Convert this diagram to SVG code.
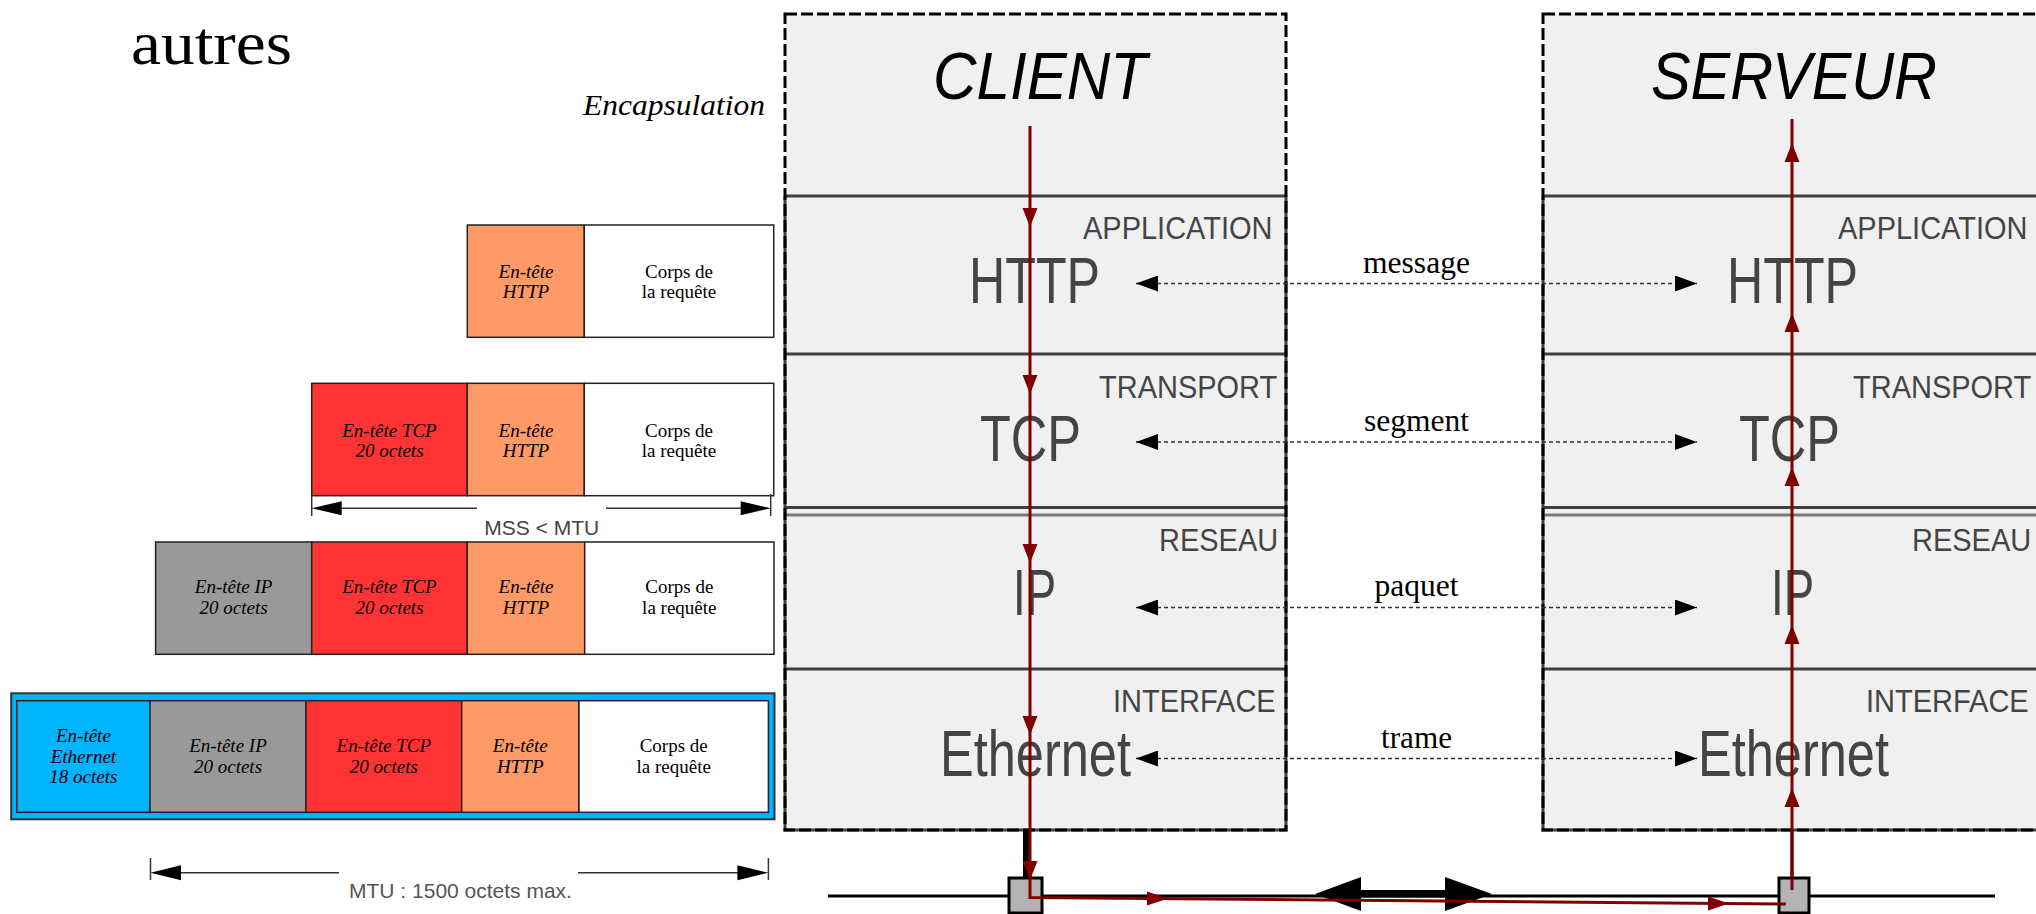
<svg xmlns="http://www.w3.org/2000/svg" xmlns:xlink="http://www.w3.org/1999/xlink" width="2036" height="914" viewBox="0 0 2036 914">
<style>
.stack{fill:#f0f0f0}
.lyr{stroke:#404040;stroke-width:3;fill:none}
.lyr2{stroke:#7a7a7a;stroke-width:3}
.brd{fill:none;stroke:#000;stroke-width:3;stroke-dasharray:12 4}
.title{font-family:"Liberation Sans",Arial,sans-serif;font-style:italic;font-size:67px;fill:#000}
.lname{font-family:"Liberation Sans",Arial,sans-serif;font-size:29px;fill:#444}
.proto{font-family:"Liberation Sans",Arial,sans-serif;font-size:64px;fill:#444}
.lbl{font-family:"Liberation Serif","Times New Roman",serif;font-size:31px;fill:#000;text-anchor:middle}
.cell{stroke:#222;stroke-width:1.5}
.pt{font-family:"Liberation Serif","Times New Roman",serif;font-size:19px;font-style:italic;fill:#000;text-anchor:middle}
.pn{font-family:"Liberation Serif","Times New Roman",serif;font-size:19px;fill:#000;text-anchor:middle}
.dim{stroke:#333;stroke-width:1.5;fill:none}
.dimt{font-family:"Liberation Sans",Arial,sans-serif;font-size:21px;text-anchor:middle}
.dot{stroke:#333;stroke-width:1.5;stroke-dasharray:4 3;fill:none}
.red{stroke:#800000;stroke-width:3;fill:none}
.redf{fill:#800000}
</style>
<defs>
<marker id="ah" viewBox="0 0 22 16" refX="22" refY="8" markerWidth="22" markerHeight="16" markerUnits="userSpaceOnUse" orient="auto-start-reverse"><path d="M0,0 L22,8 L0,16 z" fill="#000"/></marker>
<path id="rdown" d="M-7.5,-19 L7.5,-19 L0,0 z"/>
<path id="rup" d="M-7.5,19 L7.5,19 L0,0 z"/>
<path id="rright" d="M-21,-7 L-21,7 L0,0 z"/>
</defs>

<text x="131" y="64" font-family="Liberation Serif,'Times New Roman',serif" font-size="62" textLength="161" lengthAdjust="spacingAndGlyphs">autres</text>
<text x="583" y="115" font-family="Liberation Serif,'Times New Roman',serif" font-style="italic" font-size="29" textLength="182" lengthAdjust="spacingAndGlyphs">Encapsulation</text>

<g id="client">
<rect class="stack" x="785" y="14" width="501" height="816"/>
<line class="lyr" x1="785" y1="196" x2="1286" y2="196"/>
<line class="lyr" x1="785" y1="354" x2="1286" y2="354"/>
<line class="lyr" x1="785" y1="507.5" x2="1286" y2="507.5"/>
<line class="lyr2" x1="785" y1="515" x2="1286" y2="515"/>
<line class="lyr" x1="785" y1="669" x2="1286" y2="669"/>
<path class="lyr" d="M785,196 V830 H1286 V196"/>
<rect class="brd" x="785" y="14" width="501" height="816"/>
<text class="title" x="933" y="99" textLength="214" lengthAdjust="spacingAndGlyphs">CLIENT</text>
<text class="lname" transform="translate(1083,239) scale(1,1.1)">APPLICATION</text>
<text class="proto" x="969" y="303" textLength="131" lengthAdjust="spacingAndGlyphs">HTTP</text>
<text class="lname" transform="translate(1099,398) scale(1,1.1)">TRANSPORT</text>
<text class="proto" x="980" y="461" textLength="101" lengthAdjust="spacingAndGlyphs">TCP</text>
<text class="lname" transform="translate(1159,551) scale(1,1.1)">RESEAU</text>
<text class="proto" x="1013" y="615" textLength="43" lengthAdjust="spacingAndGlyphs">IP</text>
<text class="lname" transform="translate(1113,712) scale(1,1.1)">INTERFACE</text>
<text class="proto" x="940" y="776" textLength="191" lengthAdjust="spacingAndGlyphs">Ethernet</text>
</g>

<g id="serveur">
<rect class="stack" x="1543" y="14" width="501" height="816"/>
<line class="lyr" x1="1543" y1="196" x2="2044" y2="196"/>
<line class="lyr" x1="1543" y1="354" x2="2044" y2="354"/>
<line class="lyr" x1="1543" y1="507.5" x2="2044" y2="507.5"/>
<line class="lyr2" x1="1543" y1="515" x2="2044" y2="515"/>
<line class="lyr" x1="1543" y1="669" x2="2044" y2="669"/>
<path class="lyr" d="M1543,196 V830 H2044 V196"/>
<rect class="brd" x="1543" y="14" width="501" height="816"/>
<text class="title" x="1651" y="99" textLength="286" lengthAdjust="spacingAndGlyphs">SERVEUR</text>
<text class="lname" transform="translate(1838,239) scale(1,1.1)">APPLICATION</text>
<text class="proto" x="1727" y="303" textLength="131" lengthAdjust="spacingAndGlyphs">HTTP</text>
<text class="lname" transform="translate(1853,398) scale(1,1.1)">TRANSPORT</text>
<text class="proto" x="1739" y="461" textLength="101" lengthAdjust="spacingAndGlyphs">TCP</text>
<text class="lname" transform="translate(1912,551) scale(1,1.1)">RESEAU</text>
<text class="proto" x="1771" y="615" textLength="43" lengthAdjust="spacingAndGlyphs">IP</text>
<text class="lname" transform="translate(1866,712) scale(1,1.1)">INTERFACE</text>
<text class="proto" x="1698" y="776" textLength="191" lengthAdjust="spacingAndGlyphs">Ethernet</text>
</g>

<g id="packet-http">
<rect class="cell" x="467.3" y="225" width="117" height="112.3" fill="#ff9966"/>
<rect class="cell" x="584.3" y="225" width="189.4" height="112.3" fill="#fff"/>
<text class="pt" x="526" y="277.7">En-tête</text><text class="pt" x="526" y="298.3">HTTP</text>
<text class="pn" x="679" y="277.7">Corps de</text><text class="pn" x="679" y="298.3">la requête</text>
</g>

<g id="packet-tcp">
<rect class="cell" x="311.7" y="383.3" width="155.6" height="112.4" fill="#ff3333"/>
<rect class="cell" x="467.3" y="383.3" width="117" height="112.4" fill="#ff9966"/>
<rect class="cell" x="584.3" y="383.3" width="189.4" height="112.4" fill="#fff"/>
<text class="pt" x="389.5" y="436.7">En-tête TCP</text><text class="pt" x="389.5" y="456.7">20 octets</text>
<text class="pt" x="526" y="436.7">En-tête</text><text class="pt" x="526" y="456.7">HTTP</text>
<text class="pn" x="679" y="436.7">Corps de</text><text class="pn" x="679" y="456.7">la requête</text>
</g>

<g id="mss">
<line class="dim" x1="311.7" y1="494" x2="311.7" y2="516"/>
<line class="dim" x1="770.7" y1="494" x2="770.7" y2="516"/>
<line class="dim" x1="335" y1="508.3" x2="477" y2="508.3"/>
<line class="dim" x1="606" y1="508.3" x2="748" y2="508.3"/>
<path d="M311.7,508.3 L341.7,501.3 L341.7,515.3 z" fill="#000"/>
<path d="M770.7,508.3 L740.7,501.3 L740.7,515.3 z" fill="#000"/>
<text class="dimt" x="541.7" y="535" fill="#444">MSS &lt; MTU</text>
</g>

<g id="packet-ip">
<rect class="cell" x="155.6" y="542" width="156.1" height="112.3" fill="#999"/>
<rect class="cell" x="311.7" y="542" width="155.6" height="112.3" fill="#ff3333"/>
<rect class="cell" x="467.3" y="542" width="117.4" height="112.3" fill="#ff9966"/>
<rect class="cell" x="584.7" y="542" width="189.3" height="112.3" fill="#fff"/>
<text class="pt" x="233.6" y="593.3">En-tête IP</text><text class="pt" x="233.6" y="614">20 octets</text>
<text class="pt" x="389.5" y="593.3">En-tête TCP</text><text class="pt" x="389.5" y="614">20 octets</text>
<text class="pt" x="526" y="593.3">En-tête</text><text class="pt" x="526" y="614">HTTP</text>
<text class="pn" x="679.3" y="593.3">Corps de</text><text class="pn" x="679.3" y="614">la requête</text>
</g>

<g id="packet-ethernet">
<rect x="11.2" y="693.3" width="763.3" height="126" fill="#00b4ff" stroke="#333" stroke-width="2"/>
<rect class="cell" x="16.8" y="700.7" width="133.2" height="111.6" fill="#00b4ff"/>
<rect class="cell" x="150" y="700.7" width="156" height="111.6" fill="#999"/>
<rect class="cell" x="306" y="700.7" width="155.7" height="111.6" fill="#ff3333"/>
<rect class="cell" x="461.7" y="700.7" width="117.3" height="111.6" fill="#ff9966"/>
<rect class="cell" x="579" y="700.7" width="189.4" height="111.6" fill="#fff"/>
<text class="pt" x="83.4" y="741.7">En-tête</text><text class="pt" x="83.4" y="762.7">Ethernet</text><text class="pt" x="83.4" y="783.3">18 octets</text>
<text class="pt" x="228" y="751.7">En-tête IP</text><text class="pt" x="228" y="772.7">20 octets</text>
<text class="pt" x="383.8" y="751.7">En-tête TCP</text><text class="pt" x="383.8" y="772.7">20 octets</text>
<text class="pt" x="520.3" y="751.7">En-tête</text><text class="pt" x="520.3" y="772.7">HTTP</text>
<text class="pn" x="673.7" y="751.7">Corps de</text><text class="pn" x="673.7" y="772.7">la requête</text>
</g>

<g id="mtu">
<line class="dim" x1="150.5" y1="858" x2="150.5" y2="880"/>
<line class="dim" x1="768.4" y1="858" x2="768.4" y2="880"/>
<line class="dim" x1="175" y1="872.7" x2="339" y2="872.7"/>
<line class="dim" x1="578" y1="872.7" x2="745" y2="872.7"/>
<path d="M150.5,872.7 L181,865.2 L181,880.2 z" fill="#000"/>
<path d="M768.4,872.7 L737.4,865.2 L737.4,880.2 z" fill="#000"/>
<text class="dimt" x="460.5" y="898" fill="#555">MTU : 1500 octets max.</text>
</g>

<g id="reseau">
<line x1="828" y1="896" x2="1995" y2="896" stroke="#000" stroke-width="3"/>
<line x1="1026.5" y1="830" x2="1026.5" y2="878" stroke="#000" stroke-width="7"/>
<line x1="1792" y1="830" x2="1792" y2="878" stroke="#000" stroke-width="3"/>
<rect x="1009" y="878" width="33" height="35" fill="#b3b3b3" stroke="#000" stroke-width="3"/>
<rect x="1779" y="878" width="30" height="35" fill="#b3b3b3" stroke="#000" stroke-width="3"/>
<path d="M1361,890 H1445 V897.5 H1361 z" fill="#000"/>
<path d="M1315,894 L1361,877 L1361,911 z" fill="#000"/>
<path d="M1492,894 L1445,877 L1445,911 z" fill="#000"/>
</g>

<g id="connectors">
<line class="dot" x1="1136" y1="283.5" x2="1697" y2="283.5" marker-start="url(#ah)" marker-end="url(#ah)"/>
<line class="dot" x1="1136" y1="442" x2="1697" y2="442" marker-start="url(#ah)" marker-end="url(#ah)"/>
<line class="dot" x1="1136" y1="607.5" x2="1697" y2="607.5" marker-start="url(#ah)" marker-end="url(#ah)"/>
<line class="dot" x1="1136" y1="758.5" x2="1697" y2="758.5" marker-start="url(#ah)" marker-end="url(#ah)"/>
<text class="lbl" x="1416.5" y="272.7" textLength="107" lengthAdjust="spacingAndGlyphs">message</text>
<text class="lbl" x="1416.5" y="430.8" textLength="105" lengthAdjust="spacingAndGlyphs">segment</text>
<text class="lbl" x="1416.5" y="596" textLength="84" lengthAdjust="spacingAndGlyphs">paquet</text>
<text class="lbl" x="1416.5" y="748" textLength="71" lengthAdjust="spacingAndGlyphs">trame</text>

<path class="red" d="M1030,126 V897.5 L1786,904"/>
<line class="red" x1="1792" y1="890" x2="1792" y2="119"/>
<g class="redf">
<use xlink:href="#rdown" x="1030" y="227"/>
<use xlink:href="#rdown" x="1030" y="394"/>
<use xlink:href="#rdown" x="1030" y="563"/>
<use xlink:href="#rdown" x="1030" y="735"/>
<use xlink:href="#rdown" x="1030" y="880"/>
<use xlink:href="#rright" x="1168" y="898.5"/>
<use xlink:href="#rright" x="1729" y="903.5"/>
<use xlink:href="#rup" x="1792" y="143"/>
<use xlink:href="#rup" x="1792" y="313"/>
<use xlink:href="#rup" x="1792" y="467"/>
<use xlink:href="#rup" x="1792" y="625"/>
<use xlink:href="#rup" x="1792" y="788"/>
</g>
</g>
</svg>
